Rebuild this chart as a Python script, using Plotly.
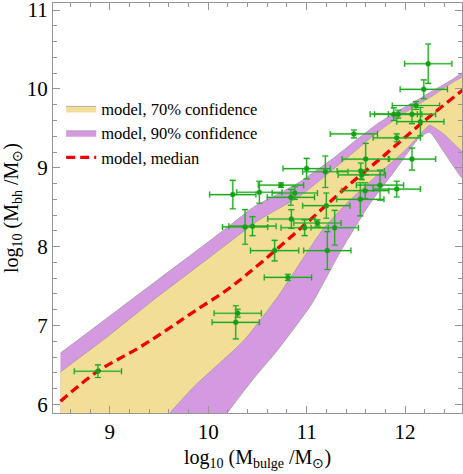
import plotly.graph_objects as go

# band edges (log10 M_bulge, log10 M_bh)
x_p90_upper = [8.5, 9.0, 9.5, 9.81, 10.2, 10.47, 10.7, 10.93, 11.27, 11.5, 11.71, 11.9, 12.11, 12.3, 12.48, 12.6]
y_p90_upper = [6.65, 7.12, 7.59, 7.88, 8.25, 8.51, 8.66, 8.82, 9.12, 9.35, 9.55, 9.70, 9.85, 9.99, 10.12, 10.21]
x_p90_lower = [8.5, 9.5, 10.2, 10.47, 10.7, 11.05, 11.335, 11.64, 11.9, 12.15, 12.25, 12.4, 12.6]
y_p90_lower = [3.5, 4.6, 5.90, 6.34, 6.68, 7.27, 7.92, 8.54, 8.97, 9.39, 9.45, 9.19, 8.85]

x_p70_upper = [8.5, 9.0, 9.44, 10.0, 10.52, 10.93, 11.27, 11.5, 11.74, 12.0, 12.3, 12.6]
y_p70_upper = [6.41, 6.88, 7.32, 7.85, 8.34, 8.64, 8.98, 9.22, 9.47, 9.70, 9.93, 10.15]
x_p70_lower = [8.5, 9.0, 9.61, 9.86, 10.37, 10.71, 10.98, 11.165, 11.4, 11.8, 12.0, 12.18, 12.25, 12.4, 12.6]
y_p70_lower = [4.38, 5.06, 5.89, 6.23, 6.82, 7.37, 7.88, 8.22, 8.54, 9.0, 9.22, 9.46, 9.54, 9.42, 9.20]

x_median = [8.5, 8.88, 9.3, 9.61, 9.86, 10.2, 10.54, 11.0, 11.4, 11.8, 12.2, 12.6]
y_median = [6.04, 6.42, 6.72, 6.97, 7.18, 7.46, 7.80, 8.30, 8.75, 9.17, 9.60, 10.0]

# observed galaxies
obs_x = [8.88, 10.30, 10.28, 10.375, 10.45, 10.25, 10.52, 10.74, 10.88, 10.84, 11.19, 11.20,
         10.845, 11.11, 10.98, 11.285, 10.675, 11.21, 10.81, 11.545, 11.595, 11.745, 11.915,
         11.0, 11.60, 12.07, 11.55, 11.56, 12.235, 12.19, 12.11, 11.885, 11.93, 12.07, 12.155,
         11.48, 11.915]
obs_y = [6.42, 7.155, 7.04, 8.25, 8.26, 8.66, 8.69, 8.78, 8.68, 8.625, 8.95, 8.52,
         8.35, 8.30, 8.24, 8.24, 7.95, 7.95, 7.61, 8.60, 8.71, 8.78, 8.73,
         8.99, 9.11, 9.11, 8.96, 8.91, 10.32, 9.995, 9.79, 9.68, 9.68, 9.68, 9.585,
         9.43, 9.38]
obs_ex = [0.24, 0.24, 0.24, 0.23, 0.24, 0.235, 0.23, 0.23, 0.23, 0.24, 0.23, 0.24,
          0.24, 0.24, 0.24, 0.24, 0.245, 0.24, 0.24, 0.24, 0.24, 0.24, 0.24,
          0.24, 0.24, 0.24, 0.24, 0.24, 0.24, 0.24, 0.24, 0.24, 0.24, 0.24, 0.24,
          0.24, 0.24]
obs_ey = [0.08, 0.05, 0.21, 0.22, 0.12, 0.18, 0.14, 0.03, 0.08, 0.10, 0.20, 0.16,
          0.12, 0.04, 0.10, 0.22, 0.13, 0.24, 0.04, 0.21, 0.10, 0.19, 0.10,
          0.13, 0.20, 0.14, 0.10, 0.06, 0.25, 0.12, 0.05, 0.08, 0.05, 0.12, 0.18,
          0.05, 0.05]

SERIF = "Liberation Serif"
YELLOW = "rgb(243,222,152)"
PURPLE = "rgb(212,153,224)"
EDGE = "rgb(160,160,160)"
FRAME = "rgb(150,150,150)"


def band(xu, yu, xl, yl):
    return xu + xl[::-1], yu + yl[::-1]


fig = go.Figure()

bx, by = band(x_p90_upper, y_p90_upper, x_p90_lower, y_p90_lower)
fig.add_trace(go.Scatter(x=bx, y=by, fill="toself", fillcolor=PURPLE, mode="lines",
                         line=dict(color=EDGE, width=0.8, shape="spline", smoothing=0.5),
                         name="model, 90% confidence", legendrank=2))

bx, by = band(x_p70_upper, y_p70_upper, x_p70_lower, y_p70_lower)
fig.add_trace(go.Scatter(x=bx, y=by, fill="toself", fillcolor=YELLOW, mode="lines",
                         line=dict(color=EDGE, width=0.8, shape="spline", smoothing=0.5),
                         name="model, 70% confidence", legendrank=1))

# pale, thicker error bars underneath the sharp ones
fig.add_trace(go.Scatter(
    x=obs_x, y=obs_y, mode="markers", showlegend=False,
    marker=dict(color="rgba(60,180,60,0.35)", size=6),
    error_x=dict(type="data", array=obs_ex, color="rgba(80,190,80,0.35)", thickness=2.2, width=3),
    error_y=dict(type="data", array=obs_ey, color="rgba(80,190,80,0.35)", thickness=2.2, width=3),
))

fig.add_trace(go.Scatter(x=x_median, y=y_median, mode="lines", name="model, median",
                         line=dict(color="rgb(240,0,0)", width=3.3, dash="9px,5px", shape="spline"),
                         legendrank=3))

fig.add_trace(go.Scatter(
    x=obs_x, y=obs_y, mode="markers", showlegend=False,
    marker=dict(color="rgb(20,160,20)", size=5),
    error_x=dict(type="data", array=obs_ex, color="rgb(30,170,30)", thickness=1.1, width=3),
    error_y=dict(type="data", array=obs_ey, color="rgb(30,170,30)", thickness=1.1, width=3),
))

axis_common = dict(
    showgrid=False, zeroline=False, showline=True, linecolor=FRAME, linewidth=1,
    mirror="allticks", ticks="inside", ticklen=7, tickcolor=FRAME,
    tickfont=dict(family=SERIF, size=21, color="black"), ticklabeloverflow="allow",
    minor=dict(dtick=0.2, ticks="inside", ticklen=4, tickcolor=FRAME, showgrid=False),
    tickmode="linear", dtick=1, automargin=False,
)

fig.update_layout(
    width=463, height=474,
    margin=dict(l=53, r=1, t=3, b=61),
    plot_bgcolor="white", paper_bgcolor="white",
    font=dict(family=SERIF, color="black"),
    xaxis=dict(range=[8.424, 12.578], tick0=9,
               title=dict(text="log<sub>10</sub> (M<sub>bulge</sub> /M<sub>⊙</sub>)",
                          font=dict(family=SERIF, size=20), standoff=6),
               **axis_common),
    yaxis=dict(range=[5.89, 11.09], tick0=6,
               title=dict(text="log<sub>10</sub> (M<sub>bh</sub> /M<sub>⊙</sub>)",
                          font=dict(family=SERIF, size=20), standoff=4),
               **axis_common),
    legend=dict(x=0.02, y=0.785, xanchor="left", yanchor="top", bgcolor="rgba(0,0,0,0)",
                font=dict(family=SERIF, size=16.5), itemwidth=30, tracegroupgap=2),
)

fig.write_html("out.html", config={"displayModeBar": False},
               post_script="document.body.style.margin = '0';")
